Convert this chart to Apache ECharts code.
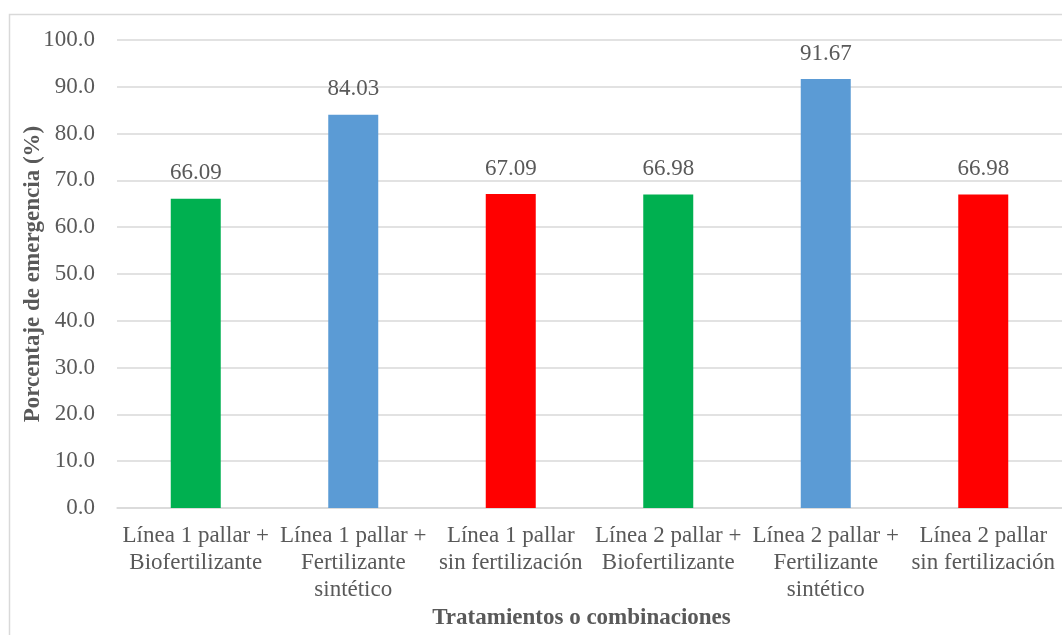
<!DOCTYPE html>
<html>
<head>
<meta charset="utf-8">
<script src="https://cdn.jsdelivr.net/npm/echarts@6/dist/echarts.min.js"></script>
<style>
  html, body { margin: 0; padding: 0; background: #fff; }
  #chart { width: 1062px; height: 635px; }
</style>
</head>
<body>
<div id="chart"></div>
<script>
// Treatments (x-axis categories)
const categories = [
  'Línea 1 pallar +\nBiofertilizante',
  'Línea 1 pallar +\nFertilizante\nsintético',
  'Línea 1 pallar\nsin fertilización',
  'Línea 2 pallar +\nBiofertilizante',
  'Línea 2 pallar +\nFertilizante\nsintético',
  'Línea 2 pallar\nsin fertilización'
];
// Emergence percentage per treatment
const emergence = [66.09, 84.03, 67.09, 66.98, 91.67, 66.98];
// Bar fill per treatment
const barColors = ['#00b050', '#5b9bd5', '#ff0000', '#00b050', '#5b9bd5', '#ff0000'];

const FONT = 'Liberation Serif, serif';
const TEXT = '#595959';
const SIZE = 23;

const chart = echarts.init(document.getElementById('chart'));
chart.setOption({
  animation: false,
  textStyle: { fontFamily: FONT },
  graphic: [{
    type: 'rect',
    shape: { x: 9.5, y: 14.5, width: 1100, height: 700 },
    style: { fill: 'none', stroke: '#d9d9d9', lineWidth: 1.5 },
    silent: true
  }],
  grid: { left: 117, top: 40, width: 948, height: 469, containLabel: false },
  xAxis: {
    type: 'category',
    data: categories,
    axisLine: { lineStyle: { color: '#d9d9d9', width: 1.5 } },
    axisTick: { show: false },
    axisLabel: {
      color: TEXT, fontFamily: FONT, fontSize: SIZE, lineHeight: 27,
      margin: 14, interval: 0
    },
    name: 'Tratamientos o combinaciones',
    nameLocation: 'middle',
    nameGap: 99,
    nameMoveOverlap: false,
    nameTextStyle: {
      color: TEXT, fontFamily: FONT, fontSize: SIZE, fontWeight: 'bold',
      padding: [0, 16, 0, 0]
    }
  },
  yAxis: {
    type: 'value',
    min: 0, max: 100, interval: 10,
    axisLine: { show: false },
    axisTick: { show: false },
    splitLine: { lineStyle: { color: '#d9d9d9', width: 1.5 } },
    axisLabel: {
      color: TEXT, fontFamily: FONT, fontSize: SIZE, margin: 22,
      formatter: v => v.toFixed(1)
    },
    name: 'Porcentaje de emergencia (%)',
    nameLocation: 'middle',
    nameGap: 72,
    nameRotate: 90,
    nameMoveOverlap: false,
    nameTextStyle: { color: TEXT, fontFamily: FONT, fontSize: SIZE, fontWeight: 'bold' }
  },
  series: [{
    type: 'bar',
    barWidth: 50,
    data: emergence.map((v, i) => ({ value: v, itemStyle: { color: barColors[i] } })),
    label: {
      show: true, position: 'top', distance: 14,
      color: TEXT, fontFamily: FONT, fontSize: SIZE,
      formatter: p => p.value.toFixed(2)
    }
  }]
});
</script>
</body>
</html>
